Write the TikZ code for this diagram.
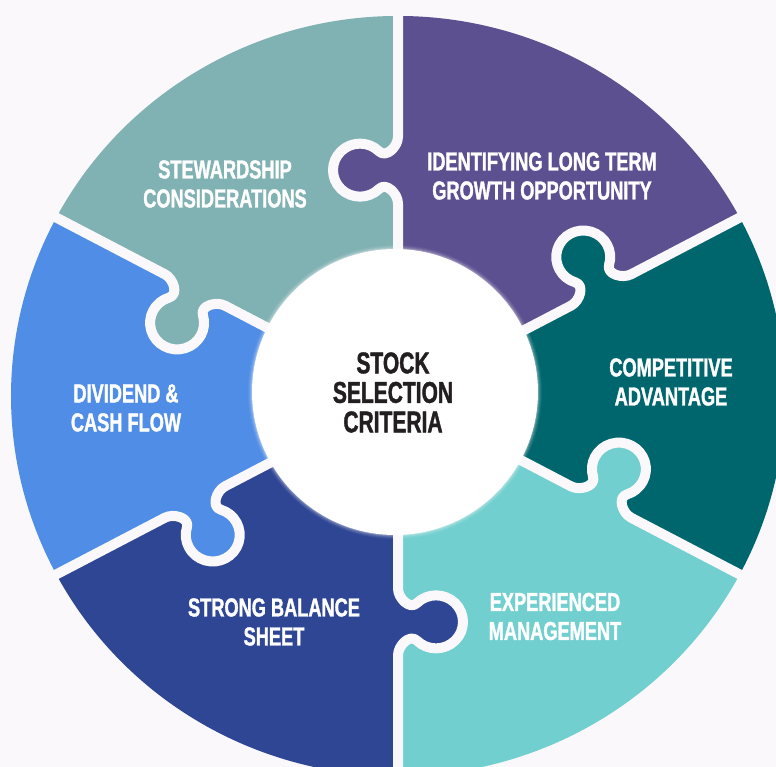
\documentclass[tikz,border=0pt]{standalone}
\usepackage{fontspec}
\newfontfamily\cond{Liberation Sans}[FakeStretch=0.70,FakeBold=1.3]
\definecolor{bgc}{HTML}{FAF8FA}
\definecolor{cStew}{HTML}{80B1B3}
\definecolor{cGrow}{HTML}{5C5090}
\definecolor{cComp}{HTML}{00666E}
\definecolor{cExp}{HTML}{72CFCF}
\definecolor{cStrong}{HTML}{2E4694}
\definecolor{cDiv}{HTML}{4F8DE6}
\definecolor{cText}{HTML}{231F20}
\newcommand{\kmid}[1]{-- ([rotate=#1]196,0) .. controls ([rotate=#1]206,0) and ([rotate=#1]217.98,11.84) .. ([rotate=#1]210.91,18.91) .. controls ([rotate=#1]200.37,29.45) and ([rotate=#1]200.37,46.55) .. ([rotate=#1]210.91,57.09) .. controls ([rotate=#1]221.45,67.63) and ([rotate=#1]238.55,67.63) .. ([rotate=#1]249.09,57.09) .. controls ([rotate=#1]259.63,46.55) and ([rotate=#1]259.63,29.45) .. ([rotate=#1]249.09,18.91) .. controls ([rotate=#1]242.02,11.84) and ([rotate=#1]254,0) .. ([rotate=#1]264,0)}
\newcommand{\kout}[1]{\kmid{#1} -- ([rotate=#1]387,0)}
\newcommand{\kin}[1]{-- ([rotate=#1]264,0) .. controls ([rotate=#1]254,0) and ([rotate=#1]242.02,11.84) .. ([rotate=#1]249.09,18.91) .. controls ([rotate=#1]259.63,29.45) and ([rotate=#1]259.63,46.55) .. ([rotate=#1]249.09,57.09) .. controls ([rotate=#1]238.55,67.63) and ([rotate=#1]221.45,67.63) .. ([rotate=#1]210.91,57.09) .. controls ([rotate=#1]200.37,46.55) and ([rotate=#1]200.37,29.45) .. ([rotate=#1]210.91,18.91) .. controls ([rotate=#1]217.98,11.84) and ([rotate=#1]206,0) .. ([rotate=#1]196,0) -- (0,0)}
\newcommand{\sector}[3]{\fill[#1] (0,0) \kout{#2} arc[start angle=#2, end angle=#3, radius=387] \kin{#3} -- cycle;}
\newcommand{\gapline}[1]{\draw[gap] (0,0) \kmid{#1} -- ([rotate=#1]420,0);}
\begin{document}
\begin{tikzpicture}[x=1pt,y=1pt,
  gap/.style={draw=bgc,line width=10pt,line join=round},
  lbl/.style={text=white,align=center,inner sep=0pt,font=\cond\bfseries\fontsize{26}{29}\selectfont},
  ctr/.style={text=cText,align=center,inner sep=0pt,font=\cond\bfseries\fontsize{30}{29.5}\selectfont}]
\useasboundingbox (-398,-371) rectangle (378,396);
\fill[bgc] (-398,-371) rectangle (378,396);
\begin{scope}[yscale=0.982]
  \sector{cGrow}{28}{90}
  \sector{cComp}{-28}{28}
  \sector{cExp}{-90}{-28}
  \sector{cStrong}{-152}{-90}
  \sector{cDiv}{152}{208}
  \sector{cStew}{90}{152}
  \gapline{90}
  \gapline{28}
  \gapline{-28}
  \gapline{-90}
  \gapline{-152}
  \gapline{152}
\end{scope}
\foreach \r/\o in {147/0.06,146/0.08,145/0.12,144/0.2}
  \fill[white,opacity=\o] (-3,4) circle[radius=\r];
\fill[white] (-3,4) circle[radius=143];
\node[ctr] (center) at (-5,3.5) {STOCK\\SELECTION\\CRITERIA};
\node[lbl] (stew) at (-173,212) {STEWARDSHIP\\CONSIDERATIONS};
\node[lbl] (grow) at (144,220) {IDENTIFYING LONG TERM\\GROWTH OPPORTUNITY};
\node[lbl] (comp) at (273,14) {COMPETITIVE\\ADVANTAGE};
\node[lbl] (exp) at (157,-220.5) {EXPERIENCED\\MANAGEMENT};
\node[lbl] (strong) at (-124,-226) {STRONG BALANCE\\SHEET};
\node[lbl] (div) at (-272,-12) {DIVIDEND \&\\CASH FLOW};
\end{tikzpicture}
\end{document}
